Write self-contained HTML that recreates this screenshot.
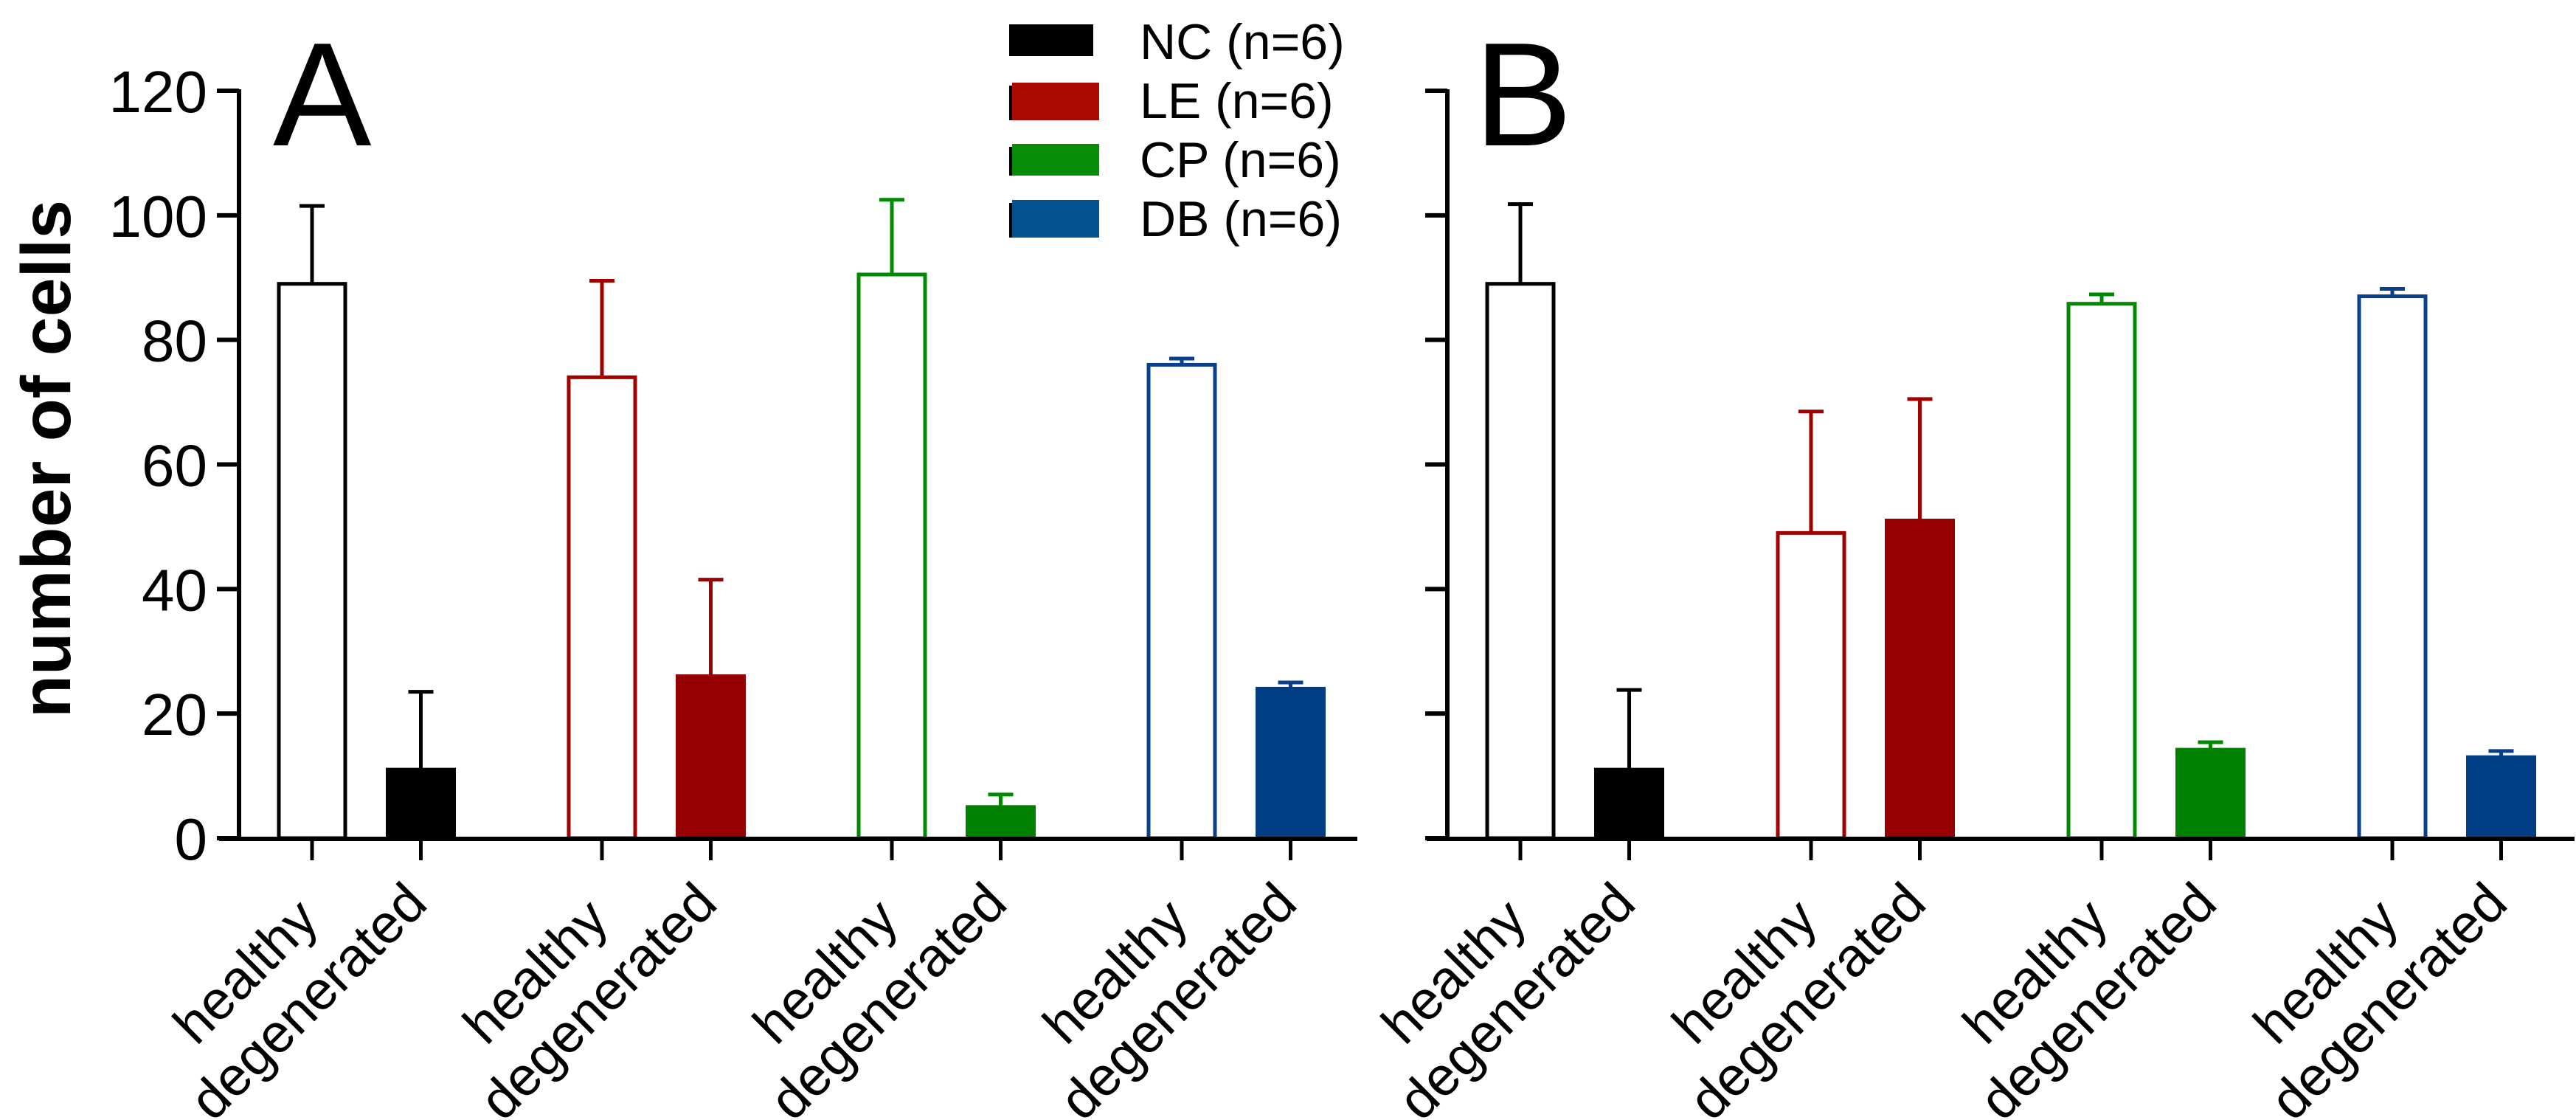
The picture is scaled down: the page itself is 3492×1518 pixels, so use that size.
<!DOCTYPE html>
<html><head><meta charset="utf-8"><style>
html,body{margin:0;padding:0;background:#fff;}
svg{display:block;font-family:"Liberation Sans",Arial,sans-serif;}
</style></head><body>
<svg id="chart" width="3492" height="1518" viewBox="0 0 3492 1518" xmlns="http://www.w3.org/2000/svg">
<g id="layer"></g>
</svg>
<script>
const groups = ["NC","LE","CP","DB"];
const categories = ["healthy","degenerated"];
const panelAHealthy = [89, 74, 90.5, 76];
const panelAHealthyErr = [12.5, 15.5, 12, 1];
const panelADegenerated = [11, 26, 5, 24];
const panelADegeneratedErr = [12.5, 15.5, 2, 1];
const panelBHealthy = [89, 49, 85.8, 87];
const panelBHealthyErr = [12.8, 19.5, 1.5, 1.2];
const panelBDegenerated = [11, 51, 14.2, 13];
const panelBDegeneratedErr = [12.8, 19.5, 1.2, 1];
const yTicks = [0, 20, 40, 60, 80, 100, 120];
const legendLabels = ["NC (n=6)","LE (n=6)","CP (n=6)","DB (n=6)"];

const NS = "http://www.w3.org/2000/svg";
const layer = document.getElementById('layer');
const outline = ["#000000","#a00000","#008a00","#0a3f8c"];
const fillc = ["#000000","#960000","#008200","#003d82"];
const legendC = ["#000000","#aa0a00","#078c07","#04518f"];
function y(v){ return 1136 - v*(1013/120); }
function xTick(panel, gi, ci){ const s = panel===0 ? 423 : 2061; const gs = panel===0 ? 393 : 394; return s + gi*gs + ci*147.5; }
function mk(tag, attrs, parent){ const e=document.createElementNS(NS,tag); for(const k in attrs) e.setAttribute(k,attrs[k]); (parent||layer).appendChild(e); return e; }

const panels = [
 {h:panelAHealthy,he:panelAHealthyErr,d:panelADegenerated,de:panelADegeneratedErr,axisX:324,xStart:297,xEnd:1840,letter:"A",lx:370},
 {h:panelBHealthy,he:panelBHealthyErr,d:panelBDegenerated,de:panelBDegeneratedErr,axisX:1962,xStart:1934,xEnd:3490,letter:"B",lx:1998}
];
panels.forEach((p,pi)=>{
  const g = mk('g',{});
  
  
  // bars
  for(let gi=0;gi<4;gi++){
    [[p.h,p.he,0],[p.d,p.de,1]].forEach(([vals,errs,ci])=>{
      const cx = xTick(pi,gi,ci), w=95, v=vals[gi], e=errs[gi];
      const top=y(v), et=y(v+e);
      const eb = mk('line',{x1:cx,x2:cx,y1:top,y2:et,stroke:outline[gi],'stroke-width':5},g);
      
      
      const cap = mk('line',{x1:cx-17,x2:cx+17,y1:et,y2:et,stroke:outline[gi],'stroke-width':5},g);
      
      
      let r;
      if(ci===0){ r = mk('rect',{x:cx-w/2+2.5,y:top,width:w-5,height:1136-top,fill:'#fff',stroke:outline[gi],'stroke-width':5},g); }
      else { r = mk('rect',{x:cx-w/2,y:top-2.5,width:w,height:1136-top+2.5,fill:fillc[gi]},g); }
      
      
      // x tick
      mk('line',{x1:cx,x2:cx,y1:1136,y2:1166,stroke:'#000','stroke-width':5},g);
      const t = mk('text',{x:0,y:0,'font-size':74,'text-anchor':'end',fill:'#000',transform:`translate(${cx+12},${ci===0?1250:1228}) rotate(-45)`},g);
      t.textContent = categories[ci];
      
      
    });
  }
  // axes
  const xa = mk('line',{x1:p.xStart,x2:p.xEnd,y1:1137,y2:1137,stroke:'#000','stroke-width':6},g);
   
  const ya = mk('line',{x1:p.axisX,x2:p.axisX,y1:y(120)-2,y2:1137,stroke:'#000','stroke-width':6},g);
   
  yTicks.forEach(v=>{
    mk('line',{x1:p.axisX-30,x2:p.axisX,y1:y(v),y2:y(v),stroke:'#000','stroke-width':6},g);
    if(pi===0){
      const t = mk('text',{x:281,y:y(v)+29,'font-size':80,'text-anchor':'end',fill:'#000'},g);
      t.textContent = String(v);
      
      
    }
  });
  const L = mk('text',{x:p.lx,y:197,'font-size':200,fill:'#000'},g);
  L.textContent = p.letter;
  
  
});
const yt = mk('text',{x:0,y:0,'font-size':95,'font-weight':'bold','text-anchor':'middle',fill:'#000',transform:'translate(95,622) rotate(-90)'});
yt.textContent = 'number of cells';


// legend
const leg = mk('g',{});


const sw = [[33,76],[112,163],[195,238],[271,322]];
legendLabels.forEach((lab,i)=>{
  const e = mk('g',{},leg);
  
  
  if(i>0) mk('rect',{x:1368,y:sw[i][0]+4,width:10,height:sw[i][1]-sw[i][0]-4,fill:'#000'},e);
  mk('rect',{x:i===0?1368:1372,y:sw[i][0],width:i===0?114:118,height:sw[i][1]-sw[i][0],fill:legendC[i]},e);
  const t = mk('text',{x:1545,y:80+i*80,'font-size':68,fill:'#000'},e);
  t.textContent = lab;
});
</script>
</body></html>
